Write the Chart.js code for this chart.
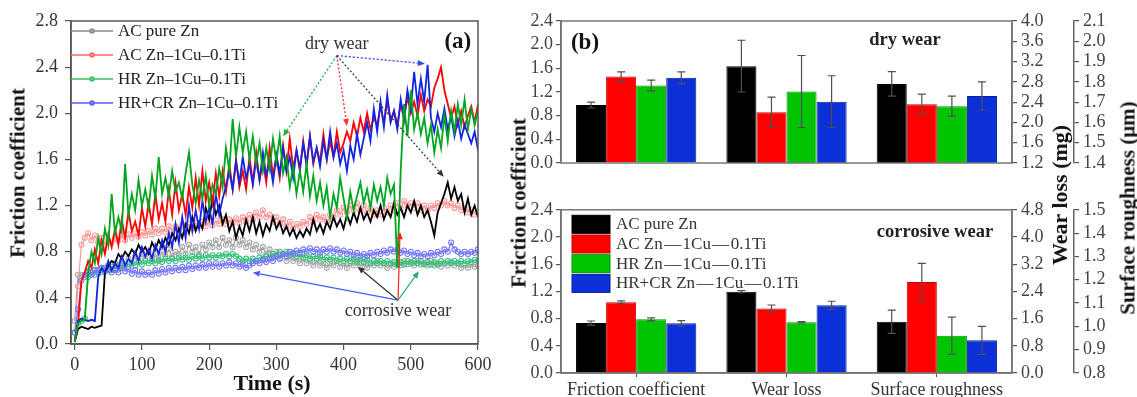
<!DOCTYPE html>
<html><head><meta charset="utf-8">
<script src="https://cdn.jsdelivr.net/npm/chart.js@4.4.1/dist/chart.umd.min.js"></script>
<style>
body{margin:0;background:#fff;}
#wrap{position:relative;width:1137px;height:397px;overflow:hidden;background:#fff;}
canvas{position:absolute;}
.t{position:absolute;font-family:'Liberation Serif','Times New Roman',serif;font-weight:bold;color:#111;white-space:nowrap;line-height:1;transform:translate(-50%,-50%);}
.r{transform:translate(-50%,-50%) rotate(-90deg);}
</style></head>
<body><div id="wrap">
<canvas id="ca" width="500" height="397" style="left:0;top:0;width:500px;height:397px"></canvas>
<canvas id="cb1" width="637" height="197" style="left:500px;top:0;width:637px;height:197px"></canvas>
<canvas id="cb2" width="637" height="202" style="left:500px;top:195px;width:637px;height:202px"></canvas>
<div class="t r" style="left:18px;top:173px;font-size:21px">Friction coefficient</div>
<div class="t" style="left:272px;top:383px;font-size:22px">Time (s)</div>
<div class="t r" style="left:519px;top:203px;font-size:21px">Friction coefficient</div>
<div class="t r" style="left:1060px;top:195px;font-size:22px">Wear loss (mg)</div>
<div class="t r" style="left:1128px;top:208px;font-size:21px">Surface roughness (μm)</div>
</div>
<script>
// ---------------- DATA: panel (a) ----------------
const timeS = [0,5,10,15,20,25,30,35,40,45,
50,55,60,65,70,75,80,85,90,95,
100,105,110,115,120,125,130,135,140,145,
150,155,160,165,170,175,180,185,190,195,
200,205,210,215,220,225,230,235,240,245,
250,255,260,265,270,275,280,285,290,295,
300,305,310,315,320,325,330,335,340,345,
350,355,360,365,370,375,380,385,390,395,
400,405,410,415,420,425,430,435,440,445,
450,455,460,465,470,475,480,485,490,495,
500,505,510,515,520,525,530,535,540,545,
550,555,560,565,570,575,580,585,590,595,
600];
const seriesNames = ['AC pure Zn','AC Zn–1Cu–0.1Ti','HR Zn–1Cu–0.1Ti','HR+CR Zn–1Cu–0.1Ti'];
// dry wear
const dryPureZn = [0.02,0.13,0.15,0.14,0.13,0.15,0.14,0.15,0.16,0.62,
0.68,0.72,0.70,0.78,0.74,0.80,0.76,0.82,0.78,0.86,
0.80,0.84,0.78,0.88,0.82,0.90,0.84,0.92,0.86,0.96,
0.90,1.00,0.92,1.04,0.96,1.10,0.98,1.06,1.00,1.18,
1.08,1.26,1.12,1.20,1.04,1.12,0.98,1.06,0.92,1.02,
0.94,1.08,0.98,1.10,0.96,1.06,0.94,1.04,0.98,1.10,
1.00,1.06,0.96,1.02,0.94,1.00,0.92,0.98,0.93,1.00,
0.95,1.08,0.98,1.04,0.96,1.06,1.00,1.10,1.02,1.08,
1.00,1.12,1.04,1.14,1.06,1.18,1.08,1.14,1.06,1.16,
1.10,1.20,1.08,1.16,1.10,1.22,1.12,1.18,1.10,1.20,
1.14,1.24,1.12,1.20,1.10,1.16,1.06,0.94,1.14,1.22,
1.30,1.40,1.26,1.36,1.24,1.30,1.14,1.26,1.12,1.20,
1.10];
const dryZnCuTi = [0.02,0.17,0.55,0.62,0.72,0.66,0.82,0.70,0.90,0.78,
0.95,0.84,1.00,0.86,1.08,0.92,1.15,0.98,1.06,0.94,
1.18,1.02,1.22,1.04,1.30,1.08,1.22,1.06,1.34,1.12,
1.40,1.16,1.30,1.12,1.36,1.18,1.44,1.20,1.50,1.24,
1.40,1.22,1.48,1.28,1.50,1.32,1.56,1.34,1.60,1.36,
1.50,1.34,1.62,1.40,1.66,1.42,1.58,1.40,1.70,1.46,
1.62,1.44,1.72,1.50,1.78,1.52,1.68,1.50,1.76,1.54,
1.80,1.56,1.70,1.58,1.82,1.60,1.76,1.62,1.84,1.66,
1.74,1.84,1.76,1.92,1.80,1.96,1.84,2.00,1.86,1.96,
1.90,2.06,1.92,2.10,1.94,2.02,1.90,2.08,1.96,2.14,
2.00,2.10,1.98,2.16,2.02,2.12,2.06,2.22,2.30,2.40,
2.20,2.08,1.96,2.06,1.90,2.02,1.88,1.98,2.06,1.92,
2.08];
const dryHR = [0.02,0.18,0.20,0.21,0.62,0.80,0.70,0.92,0.78,1.00,
0.86,1.30,0.96,1.10,0.98,1.56,1.12,1.30,1.16,1.42,
1.20,1.34,1.18,1.46,1.26,1.62,1.30,1.44,1.28,1.50,
1.32,1.40,1.26,1.48,1.66,1.38,1.22,1.42,1.26,1.46,
1.20,1.38,1.30,1.52,1.36,1.70,1.50,1.95,1.62,1.88,
1.66,1.84,1.60,1.80,1.56,1.74,1.50,1.70,1.52,1.78,
1.58,1.80,1.48,1.62,1.36,1.54,1.30,1.50,1.32,1.56,
1.28,1.46,1.24,1.40,1.20,1.36,1.10,1.30,1.18,1.44,
1.26,1.10,1.32,1.16,1.28,1.40,1.22,1.34,1.18,1.38,
1.24,1.36,1.20,1.44,1.30,1.38,0.66,1.50,2.08,1.80,
2.20,1.86,2.00,1.82,1.96,1.74,1.90,1.66,1.86,1.70,
1.98,1.76,2.02,1.84,2.08,1.90,2.12,1.86,2.04,1.90,
2.02];
const dryHRCR = [0.02,0.20,0.22,0.21,0.20,0.21,0.20,0.58,0.66,0.62,
0.72,0.64,0.70,0.66,0.76,0.68,0.74,0.70,0.80,0.72,
0.84,0.76,0.82,0.74,0.86,0.78,0.90,0.80,0.96,0.84,
1.04,0.88,1.10,0.92,1.20,0.98,1.16,1.00,1.24,1.06,
1.18,1.04,1.30,1.12,1.26,1.36,1.50,1.34,1.58,1.40,
1.62,1.44,1.56,1.38,1.60,1.42,1.66,1.46,1.58,1.40,
1.64,1.48,1.70,1.50,1.62,1.44,1.68,1.52,1.74,1.56,
1.80,1.58,1.70,1.54,1.76,1.60,1.84,1.62,1.74,1.56,
1.68,1.50,1.72,1.60,1.82,1.64,1.78,1.92,1.76,2.04,
1.84,2.10,1.88,2.16,1.92,2.02,1.86,2.12,1.94,2.20,
2.04,2.36,2.08,2.30,2.10,2.42,1.96,1.84,2.00,1.88,
2.04,1.86,1.98,1.80,1.94,1.78,1.90,1.82,1.74,1.84,
1.68];
// corrosive wear
const corPureZn = [0.20,0.60,0.60,0.58,0.62,0.60,0.64,0.62,0.66,0.63,
0.68,0.64,0.70,0.66,0.72,0.68,0.74,0.70,0.76,0.72,
0.78,0.74,0.80,0.74,0.78,0.72,0.80,0.76,0.82,0.76,
0.80,0.78,0.84,0.78,0.86,0.80,0.84,0.78,0.86,0.82,
0.88,0.84,0.90,0.84,0.92,0.86,0.90,0.84,0.92,0.86,
0.90,0.84,0.88,0.82,0.86,0.80,0.84,0.78,0.82,0.76,
0.80,0.74,0.78,0.72,0.76,0.72,0.74,0.70,0.74,0.70,
0.72,0.68,0.72,0.68,0.70,0.66,0.70,0.68,0.72,0.67,
0.70,0.66,0.70,0.68,0.72,0.67,0.70,0.66,0.70,0.68,
0.72,0.68,0.70,0.66,0.69,0.67,0.70,0.68,0.72,0.69,
0.71,0.68,0.72,0.69,0.70,0.68,0.72,0.68,0.70,0.67,
0.70,0.68,0.71,0.68,0.70,0.66,0.68,0.66,0.69,0.67,
0.68];
const corZnCuTi = [0.10,0.50,0.86,0.92,0.96,0.90,0.94,0.88,0.92,0.86,
0.90,0.88,0.92,0.90,0.94,0.90,0.95,0.92,0.96,0.93,
0.97,0.94,0.98,0.95,1.00,0.96,1.00,0.97,1.02,0.98,
1.02,0.99,1.03,1.00,1.04,1.00,1.05,1.02,1.06,1.02,
1.06,1.03,1.07,1.04,1.08,1.04,1.08,1.05,1.09,1.05,
1.10,1.06,1.12,1.08,1.14,1.10,1.16,1.10,1.12,1.06,
1.10,1.04,1.08,1.02,1.06,1.00,1.04,1.02,1.06,1.04,
1.10,1.06,1.12,1.08,1.10,1.06,1.12,1.10,1.16,1.12,
1.18,1.14,1.20,1.16,1.22,1.16,1.20,1.14,1.18,1.12,
1.16,1.12,1.18,1.14,1.20,1.16,1.22,1.18,1.24,1.20,
1.22,1.18,1.22,1.16,1.20,1.16,1.20,1.18,1.22,1.20,
1.24,1.20,1.22,1.18,1.20,1.16,1.18,1.14,1.16,1.12,
1.14];
const corHR = [0.10,0.18,0.20,0.22,0.58,0.62,0.60,0.64,0.62,0.66,
0.64,0.67,0.65,0.68,0.66,0.69,0.67,0.70,0.68,0.71,
0.69,0.72,0.70,0.72,0.70,0.73,0.71,0.74,0.72,0.74,
0.72,0.75,0.73,0.75,0.73,0.76,0.74,0.76,0.74,0.77,
0.75,0.77,0.75,0.77,0.76,0.78,0.76,0.78,0.76,0.74,
0.72,0.74,0.72,0.74,0.72,0.75,0.74,0.76,0.75,0.78,
0.76,0.80,0.78,0.80,0.77,0.79,0.76,0.78,0.75,0.77,
0.74,0.76,0.74,0.76,0.73,0.75,0.73,0.75,0.72,0.74,
0.72,0.74,0.72,0.74,0.71,0.73,0.71,0.73,0.70,0.72,
0.70,0.72,0.70,0.72,0.70,0.71,0.69,0.71,0.69,0.72,
0.70,0.72,0.70,0.72,0.69,0.71,0.69,0.71,0.69,0.72,
0.70,0.72,0.70,0.72,0.70,0.72,0.70,0.72,0.71,0.73,
0.72];
const corHRCR = [0.10,0.30,0.55,0.60,0.63,0.60,0.64,0.62,0.66,0.63,
0.65,0.62,0.64,0.62,0.66,0.63,0.65,0.61,0.64,0.60,
0.63,0.60,0.62,0.60,0.64,0.61,0.65,0.62,0.66,0.63,
0.66,0.64,0.67,0.64,0.68,0.65,0.68,0.66,0.69,0.66,
0.70,0.67,0.70,0.67,0.70,0.68,0.71,0.68,0.70,0.67,
0.69,0.66,0.68,0.70,0.72,0.70,0.73,0.71,0.74,0.72,
0.76,0.74,0.78,0.76,0.80,0.78,0.81,0.79,0.82,0.80,
0.83,0.80,0.82,0.79,0.82,0.80,0.83,0.80,0.82,0.79,
0.81,0.78,0.80,0.77,0.79,0.76,0.78,0.76,0.79,0.77,
0.80,0.78,0.81,0.79,0.82,0.80,0.82,0.79,0.81,0.78,
0.80,0.77,0.79,0.76,0.78,0.76,0.79,0.77,0.80,0.78,
0.82,0.80,0.88,0.82,0.80,0.78,0.80,0.78,0.80,0.79,
0.82];
const xTicksA = [0,100,200,300,400,500,600];
const yTicksA = [0,0.4,0.8,1.2,1.6,2.0,2.4,2.8];

// ---------------- DATA: panel (b) ----------------
const barCategories = ['Friction coefficient','Wear loss','Surface roughness'];
const barLegend = ['AC pure Zn','AC Zn\u200A—\u200A1Cu\u200A—\u200A0.1Ti','HR Zn\u200A—\u200A1Cu\u200A—\u200A0.1Ti','HR+CR Zn\u200A—\u200A1Cu\u200A—\u200A0.1Ti'];
// order of each array: AC pure Zn, AC Zn-1Cu-0.1Ti, HR, HR+CR
const dryFriction     = [0.98,1.46,1.31,1.44];
const dryFrictionErr  = [0.05,0.08,0.09,0.10];
const dryWearLoss     = [3.11,2.20,2.61,2.41];
const dryWearLossErr  = [0.51,0.30,0.71,0.51];
const dryRoughness    = [1.79,1.69,1.68,1.73];
const dryRoughnessErr = [0.06,0.05,0.05,0.07];
const corFriction     = [0.735,1.04,0.79,0.73];
const corFrictionErr  = [0.03,0.02,0.02,0.04];
const corWearLoss     = [2.39,1.90,1.49,1.99];
const corWearLossErr  = [0.03,0.10,0.02,0.12];
const corRoughness    = [1.02,1.19,0.96,0.94];
const corRoughnessErr = [0.05,0.08,0.08,0.06];
const frictionTicks  = [0,0.4,0.8,1.2,1.6,2.0,2.4];
const dryWearTicks   = [1.2,1.6,2.0,2.4,2.8,3.2,3.6,4.0];
const dryRoughTicks  = [1.4,1.5,1.6,1.7,1.8,1.9,2.0,2.1];
const corWearTicks   = [0,0.8,1.6,2.4,3.2,4.0,4.8];
const corRoughTicks  = [0.8,0.9,1.0,1.1,1.2,1.3,1.4,1.5];

// ---------------- STYLE ----------------
const FONT = "'Liberation Serif', 'Times New Roman', serif";
const dryColors = ['#000000','#ff0000','#00a620','#1424e0'];
const corColors = ['#a6a6a6','#ff9696','#36c27a','#7474ff'];
const legColorsA = ['#8a8a8a','#ff6464','#3cbf5c','#5a5aff'];
const barColors = ['#000000','#ff0000','#00c400','#0b30d8'];
const barBorders = ['#000000','#c40000','#009400','#0a1f9c'];

function drawArrow(ctx, x0, y0, x1, y1, color, dashed) {
  ctx.save();
  ctx.strokeStyle = color; ctx.fillStyle = color; ctx.lineWidth = dashed ? 1.3 : 1.2;
  const ang = Math.atan2(y1 - y0, x1 - x0);
  const hl = 7, hw = 3;
  const bx = x1 - hl * Math.cos(ang), by = y1 - hl * Math.sin(ang);
  if (dashed) ctx.setLineDash([2, 2]);
  ctx.beginPath(); ctx.moveTo(x0, y0); ctx.lineTo(bx, by); ctx.stroke();
  ctx.setLineDash([]);
  ctx.beginPath();
  ctx.moveTo(x1, y1);
  ctx.lineTo(bx + hw * Math.sin(ang), by - hw * Math.cos(ang));
  ctx.lineTo(bx - hw * Math.sin(ang), by + hw * Math.cos(ang));
  ctx.closePath(); ctx.fill();
  ctx.restore();
}

// ---------------- PANEL (a) ----------------
const mk = vals => timeS.map((t, i) => ({x: t, y: vals[i]}));
const dryDs = (vals, c) => ({data: mk(vals), borderColor: c, backgroundColor: c, borderWidth: 1.8, pointRadius: 0, tension: 0});
const corDs = (vals, c) => ({data: mk(vals), borderColor: c, backgroundColor: c, borderWidth: 1.2, pointRadius: 2.5,
  pointBorderWidth: 1.1, pointBorderColor: c, pointBackgroundColor: 'rgba(255,255,255,0)', tension: 0});

const panelAPlugin = {
  id: 'panelA',
  afterDraw(chart) {
    const {ctx, chartArea: ca, scales: {x, y}} = chart;
    const P = (t, v) => [x.getPixelForValue(t), y.getPixelForValue(v)];
    ctx.save();
    ctx.strokeStyle = '#555'; ctx.lineWidth = 1.5;
    ctx.strokeRect(ca.left, ca.top, ca.right - ca.left, ca.bottom - ca.top);
    // legend
    ctx.font = '17px ' + FONT; ctx.textBaseline = 'middle'; ctx.textAlign = 'left';
    seriesNames.forEach((n, i) => {
      const yy = ca.top + 10 + i * 24;
      ctx.strokeStyle = legColorsA[i]; ctx.lineWidth = 1.5;
      ctx.beginPath(); ctx.moveTo(ca.left, yy); ctx.lineTo(ca.left + 42, yy); ctx.stroke();
      ctx.beginPath(); ctx.arc(ca.left + 21, yy, 2, 0, Math.PI * 2); ctx.stroke();
      ctx.fillStyle = '#222';
      ctx.fillText(n, ca.left + 47, yy + 1);
    });
    // dry wear annotation
    ctx.font = '18px ' + FONT; ctx.textAlign = 'center'; ctx.fillStyle = '#333';
    let p = P(390, 2.6); ctx.fillText('dry wear', p[0], p[1]);
    const o = P(390, 2.5);
    [[310, 1.8, '#20b040'], [405, 1.89, '#ff3030'], [521, 2.43, '#3048ff'], [549, 1.45, '#333333']].forEach(a => {
      const e = P(a[0], a[1]); drawArrow(ctx, o[0], o[1], e[0], e[1], a[2], true);
    });
    // corrosive wear annotation
    p = P(481, 0.28); ctx.fillStyle = '#333'; ctx.fillText('corrosive wear', p[0], p[1]);
    const o2 = P(481, 0.38);
    [[265, 0.62, '#4a5cff'], [421, 0.67, '#333333'], [484, 0.97, '#ff2020'], [512, 0.63, '#20b060']].forEach(a => {
      const e = P(a[0], a[1]); drawArrow(ctx, o2[0], o2[1], e[0], e[1], a[2], false);
    });
    // (a)
    ctx.font = 'bold 23px ' + FONT; ctx.fillStyle = '#111';
    p = P(570, 2.62); ctx.fillText('(a)', p[0], p[1]);
    ctx.restore();
  }
};

new Chart(document.getElementById('ca'), {
  type: 'line',
  data: {datasets: [
    dryDs(dryHR, dryColors[2]), dryDs(dryHRCR, dryColors[3]), dryDs(dryZnCuTi, dryColors[1]), dryDs(dryPureZn, dryColors[0]),
    corDs(corHRCR, corColors[3]), corDs(corHR, corColors[2]), corDs(corZnCuTi, corColors[1]), corDs(corPureZn, corColors[0])
  ]},
  options: {
    responsive: false, animation: false, devicePixelRatio: 1,
    layout: {padding: {top: 21, right: 22, bottom: 0, left: 0}},
    plugins: {legend: {display: false}, tooltip: {enabled: false}},
    scales: {
      x: {type: 'linear', min: -5.5, max: 600,
        afterBuildTicks: a => { a.ticks = xTicksA.map(v => ({value: v})); },
        afterFit: a => { a.height = 53; },
        grid: {drawOnChartArea: false, drawTicks: true, tickLength: 6, color: '#555', lineWidth: 1.2},
        border: {display: true, color: '#555', width: 1.5},
        ticks: {font: {family: FONT, size: 18}, color: '#333', padding: 4, maxRotation: 0, autoSkip: false, callback: v => String(v)}},
      y: {type: 'linear', min: 0, max: 2.8,
        afterBuildTicks: a => { a.ticks = yTicksA.map(v => ({value: v})); },
        afterFit: a => { a.width = 71; },
        grid: {drawOnChartArea: false, drawTicks: true, tickLength: 6, color: '#555', lineWidth: 1.2},
        border: {display: true, color: '#555', width: 1.5},
        ticks: {font: {family: FONT, size: 18}, color: '#333', padding: 7, autoSkip: false, callback: v => v.toFixed(1)}}
    }
  },
  plugins: [panelAPlugin]
});

// ---------------- PANEL (b) ----------------
function yAxis(pos, ticksArr, width, weight) {
  return {
    type: 'linear', position: pos, weight: weight,
    min: ticksArr[0], max: ticksArr[ticksArr.length - 1],
    afterBuildTicks: a => { a.ticks = ticksArr.map(v => ({value: v})); },
    afterFit: a => { a.width = width; },
    grid: {drawOnChartArea: false, drawTicks: true, tickLength: 5, color: '#555', lineWidth: 1.2},
    border: {display: true, color: '#666', width: 1.5},
    ticks: {font: {family: FONT, size: 18}, color: '#444', padding: pos === 'left' ? 3 : 4, autoSkip: false, callback: v => v.toFixed(1)}
  };
}
function barSets(vals, errs, axisIds) {
  const out = [];
  vals.forEach((arr, m) => arr.forEach((v, s) => {
    const d = [null, null, null]; d[m] = v;
    const e = [null, null, null]; e[m] = errs[m][s];
    out.push({data: d, errors: e, yAxisID: axisIds[m], backgroundColor: barColors[s], borderColor: barBorders[s],
      borderWidth: 1, skipNull: true, categoryPercentage: 0.8, barPercentage: 1.0});
  }));
  return out;
}
const errorBarPlugin = {
  id: 'errBars',
  afterDatasetsDraw(chart) {
    const ctx = chart.ctx;
    chart.data.datasets.forEach((ds, di) => {
      const meta = chart.getDatasetMeta(di);
      const sc = chart.scales[ds.yAxisID];
      ds.data.forEach((v, i) => {
        if (v == null) return;
        const bar = meta.data[i]; const e = ds.errors[i];
        const yt = sc.getPixelForValue(v + e), yb = sc.getPixelForValue(v - e);
        ctx.save(); ctx.strokeStyle = '#505050'; ctx.lineWidth = 1.2;
        ctx.beginPath();
        ctx.moveTo(bar.x, yt); ctx.lineTo(bar.x, yb);
        ctx.moveTo(bar.x - 4, yt); ctx.lineTo(bar.x + 4, yt);
        ctx.moveTo(bar.x - 4, yb); ctx.lineTo(bar.x + 4, yb);
        ctx.stroke(); ctx.restore();
      });
    });
  }
};
const frameTop = {
  id: 'frameTop',
  afterDraw(chart) {
    const {ctx, chartArea: ca} = chart;
    ctx.save(); ctx.strokeStyle = '#777'; ctx.lineWidth = 1.5;
    ctx.strokeRect(ca.left, ca.top, ca.right - ca.left, ca.bottom - ca.top);
    ctx.fillStyle = '#111'; ctx.textAlign = 'center'; ctx.textBaseline = 'middle';
    ctx.font = 'bold 23px ' + FONT; ctx.fillText('(b)', ca.left + 24, ca.top + 22);
    ctx.font = 'bold 18.5px ' + FONT; ctx.fillStyle = '#222'; ctx.fillText('dry wear', ca.left + 344, ca.top + 19);
    ctx.restore();
  }
};
const frameBottom = {
  id: 'frameBottom',
  afterDraw(chart) {
    const {ctx, chartArea: ca} = chart;
    ctx.save(); ctx.strokeStyle = '#777'; ctx.lineWidth = 1.5;
    ctx.strokeRect(ca.left, ca.top, ca.right - ca.left, ca.bottom - ca.top);
    ctx.textBaseline = 'middle';
    barLegend.forEach((n, i) => {
      const top = ca.top + 5.5 + i * 19.7;
      ctx.fillStyle = barColors[i]; ctx.fillRect(ca.left + 11, top, 38, 18);
      ctx.strokeStyle = barBorders[i]; ctx.lineWidth = 1; ctx.strokeRect(ca.left + 11, top, 38, 18);
      ctx.fillStyle = '#333'; ctx.textAlign = 'left'; ctx.font = '17px ' + FONT;
      ctx.fillText(n, ca.left + 55, top + 9.5);
    });
    ctx.font = 'bold 18.5px ' + FONT; ctx.fillStyle = '#222'; ctx.textAlign = 'center';
    ctx.fillText('corrosive wear', ca.left + 374, ca.top + 22);
    ctx.restore();
  }
};
function barChart(id, vals, errs, wearTicks, roughTicks, pad, showX, frame) {
  return new Chart(document.getElementById(id), {
    type: 'bar',
    data: {labels: barCategories, datasets: barSets(vals, errs, ['yF', 'yW', 'yR'])},
    options: {
      responsive: false, animation: false, devicePixelRatio: 1,
      layout: {padding: pad},
      plugins: {legend: {display: false}, tooltip: {enabled: false}},
      scales: {
        x: {type: 'category', display: showX, offset: true,
          afterFit: a => { a.height = 24; },
          grid: {offset: false, drawOnChartArea: false, drawTicks: true, tickLength: 4, color: '#555'},
          border: {display: true, color: '#666', width: 1.5},
          ticks: {font: {family: FONT, size: 18}, color: '#333', padding: 2, maxRotation: 0, autoSkip: false}},
        yF: yAxis('left', frictionTicks, 61, 0),
        yW: yAxis('right', wearTicks, 62, 1),
        yR: yAxis('right', roughTicks, 63, 2)
      }
    },
    plugins: [errorBarPlugin, frame]
  });
}
barChart('cb1', [dryFriction, dryWearLoss, dryRoughness], [dryFrictionErr, dryWearLossErr, dryRoughnessErr],
  dryWearTicks, dryRoughTicks, {top: 21, bottom: 10, left: 0, right: 0}, false, frameTop);
barChart('cb2', [corFriction, corWearLoss, corRoughness], [corFrictionErr, corWearLossErr, corRoughnessErr],
  corWearTicks, corRoughTicks, {top: 10, bottom: 0, left: 0, right: 0}, true, frameBottom);
</script>
</body></html>
